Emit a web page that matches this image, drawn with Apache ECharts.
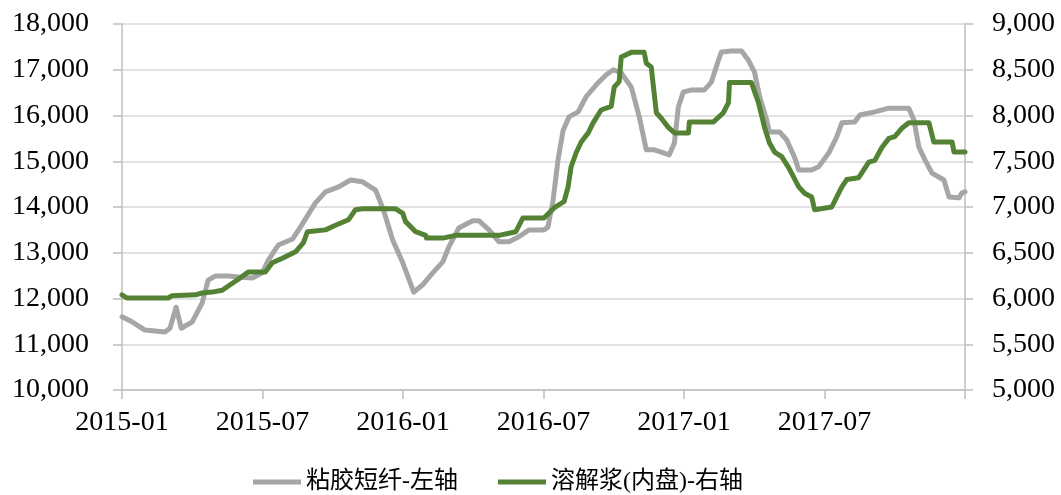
<!DOCTYPE html>
<html>
<head>
<meta charset="utf-8">
<script src="https://cdn.jsdelivr.net/npm/echarts@6/dist/echarts.min.js"></script>
<style>
  html, body { margin: 0; padding: 0; background: #fff; }
  #chart { width: 1061px; height: 495px; }
</style>
</head>
<body>
<div id="chart"></div>
<script>
// x = months since 2015-01
const xTickLabels = ['2015-01', '2015-07', '2016-01', '2016-07', '2017-01', '2017-07'];

const seriesNames = ['粘胶短纤-左轴', '溶解浆(内盘)-右轴'];

// 粘胶短纤 (left axis)
const viscose = [
    [0, 11600], [0.43, 11490], [0.98, 11310], [1.84, 11270], [2.05, 11350], [2.31, 11810],
    [2.53, 11350], [3.0, 11490], [3.42, 11900], [3.68, 12400], [3.98, 12490], [4.54, 12490],
    [4.97, 12470], [5.57, 12450], [5.99, 12560], [6.25, 12840], [6.68, 13170], [7.28, 13300],
    [7.62, 13560], [8.26, 14090], [8.69, 14330], [9.25, 14440], [9.76, 14590], [10.27, 14550],
    [10.83, 14370], [11.17, 13930], [11.56, 13280], [11.99, 12780], [12.46, 12140], [12.84, 12300],
    [13.27, 12560], [13.7, 12800], [13.96, 13130], [14.38, 13540], [14.98, 13700], [15.24, 13700],
    [15.67, 13500], [16.1, 13240], [16.52, 13240], [16.95, 13350], [17.38, 13500], [18.02, 13500],
    [18.19, 13560], [18.41, 14150], [18.62, 15030], [18.84, 15680], [19.09, 15970], [19.48, 16080],
    [19.82, 16410], [20.25, 16670], [20.68, 16890], [20.98, 17000], [21.32, 16930], [21.75, 16620],
    [22.09, 15970], [22.39, 15250], [22.73, 15250], [23.03, 15200], [23.37, 15140], [23.59, 15400],
    [23.76, 16190], [23.97, 16510], [24.32, 16560], [24.87, 16560], [25.17, 16730], [25.47, 17210],
    [25.6, 17390], [26.03, 17410], [26.46, 17410], [26.75, 17210], [27.01, 16950], [27.23, 16410],
    [27.53, 15900], [27.65, 15640], [28.08, 15640], [28.38, 15470], [28.72, 15090], [28.9, 14810],
    [29.45, 14810], [29.75, 14880], [30.18, 15180], [30.52, 15530], [30.74, 15840], [31.29, 15860],
    [31.51, 16010], [32.15, 16080], [32.75, 16160], [33.6, 16160], [33.82, 15900], [34.03, 15310],
    [34.29, 15030], [34.59, 14740], [35.1, 14590], [35.32, 14220], [35.74, 14200], [35.87, 14310],
    [36.0, 14330]
];

// 溶解浆(内盘) (right axis)
const pulp = [
    [0, 6040], [0.2, 6005], [1.97, 6005], [2.14, 6030], [3.13, 6040], [3.42, 6060],
    [3.85, 6070], [4.28, 6090], [4.62, 6150], [4.97, 6210], [5.39, 6290], [6.12, 6290],
    [6.42, 6390], [6.85, 6440], [7.41, 6510], [7.75, 6610], [7.92, 6730], [8.69, 6750],
    [9.12, 6800], [9.67, 6860], [9.97, 6970], [10.27, 6980], [11.69, 6980], [11.99, 6930],
    [12.11, 6840], [12.54, 6730], [12.97, 6690], [13.0, 6660], [13.7, 6660], [14.25, 6690],
    [16.1, 6690], [16.82, 6730], [17.12, 6880], [18.02, 6880], [18.45, 6990], [18.88, 7060],
    [19.05, 7220], [19.18, 7440], [19.39, 7590], [19.61, 7710], [19.91, 7810], [20.12, 7920],
    [20.46, 8060], [20.89, 8100], [21.02, 8310], [21.23, 8370], [21.32, 8640], [21.75, 8690],
    [22.3, 8690], [22.39, 8570], [22.6, 8530], [22.82, 8030], [23.03, 7970], [23.33, 7870],
    [23.59, 7810], [24.19, 7810], [24.23, 7930], [25.26, 7930], [25.47, 7980], [25.68, 8030],
    [25.9, 8140], [25.94, 8360], [26.88, 8360], [27.18, 8140], [27.44, 7870], [27.65, 7700],
    [27.87, 7600], [28.17, 7550], [28.47, 7430], [28.9, 7220], [29.15, 7150], [29.45, 7110],
    [29.58, 6970], [30.31, 7000], [30.74, 7220], [30.95, 7300], [31.46, 7320], [31.89, 7490],
    [32.15, 7510], [32.45, 7650], [32.75, 7750], [33.0, 7770], [33.3, 7860], [33.6, 7920],
    [34.46, 7920], [34.67, 7710], [35.45, 7710], [35.53, 7600], [36.0, 7600]
];

const chart = echarts.init(document.getElementById('chart'), null, { renderer: 'canvas' });

const serif = '"Liberation Serif", "Times New Roman", "Noto Sans CJK SC", serif';
const fmt = (v) => v.toLocaleString('en-US');

const option = {
    animation: false,
    backgroundColor: '#fff',
    grid: {
        left: 122,
        right: 96,
        top: 24,
        bottom: 105,
        containLabel: false
    },
    legend: {
        left: 248,
        top: 465,
        itemWidth: 48,
        itemHeight: 5,
        itemGap: 40,
        icon: 'rect',
        textStyle: {
            fontFamily: serif,
            fontSize: 24,
            color: '#000'
        },
        data: seriesNames
    },
    xAxis: {
        type: 'value',
        min: 0,
        max: 36,
        interval: 6,
        axisLine: { show: true, lineStyle: { color: '#bfbfbf', width: 1.5 } },
        axisTick: { show: true, length: 9, lineStyle: { color: '#bfbfbf', width: 1.5 } },
        splitLine: { show: false },
        axisLabel: {
            margin: 19,
            fontFamily: serif,
            fontSize: 28,
            color: '#000',
            formatter: (v) => xTickLabels[Math.round(v / 6)] || ''
        }
    },
    yAxis: [
        {
            type: 'value',
            min: 10000,
            max: 18000,
            interval: 1000,
            position: 'left',
            axisLine: { show: true, lineStyle: { color: '#bfbfbf', width: 1.5 } },
            axisTick: { show: true, length: 9, lineStyle: { color: '#bfbfbf', width: 1.5 } },
            splitLine: { show: true, lineStyle: { color: '#d9d9d9', width: 1.5 } },
            axisLabel: {
                margin: 33,
                fontFamily: serif,
                fontSize: 28,
                color: '#000',
                formatter: fmt
            }
        },
        {
            type: 'value',
            min: 5000,
            max: 9000,
            interval: 500,
            position: 'right',
            axisLine: { show: true, lineStyle: { color: '#bfbfbf', width: 1.5 } },
            axisTick: { show: true, length: 8, lineStyle: { color: '#bfbfbf', width: 1.5 } },
            splitLine: { show: false },
            axisLabel: {
                margin: 27,
                fontFamily: serif,
                fontSize: 28,
                color: '#000',
                formatter: fmt
            }
        }
    ],
    series: [
        {
            name: seriesNames[0],
            type: 'line',
            yAxisIndex: 0,
            data: viscose,
            showSymbol: false,
            symbol: 'none',
            lineStyle: { color: '#a6a6a6', width: 5, join: 'round', cap: 'round' },
            itemStyle: { color: '#a6a6a6' },
            z: 2
        },
        {
            name: seriesNames[1],
            type: 'line',
            yAxisIndex: 1,
            data: pulp,
            showSymbol: false,
            symbol: 'none',
            lineStyle: { color: '#548235', width: 5, join: 'round', cap: 'round' },
            itemStyle: { color: '#548235' },
            z: 3
        }
    ]
};

chart.setOption(option);
</script>
</body>
</html>
